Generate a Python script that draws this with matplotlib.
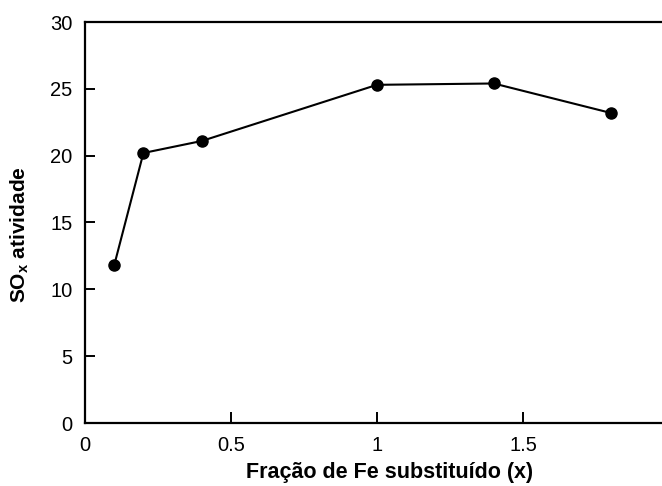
import matplotlib
matplotlib.use("Agg")
from matplotlib import pyplot as plt

# data
fe_fraction = [0.1, 0.2, 0.4, 1.0, 1.4, 1.8]
sox_activity = [11.8, 20.2, 21.1, 25.3, 25.4, 23.2]

x_ticks = [0, 0.5, 1, 1.5, 2]
x_tick_labels = ["0", "0.5", "1", "1.5", "2"]
y_ticks = [0, 5, 10, 15, 20, 25, 30]

plt.rcParams["font.family"] = ["Liberation Sans", "DejaVu Sans"]
plt.rcParams["mathtext.fontset"] = "custom"
plt.rcParams["mathtext.rm"] = "Liberation Sans:bold"
plt.rcParams["mathtext.bf"] = "Liberation Sans:bold"

fig = plt.figure(figsize=(6.62, 4.86), dpi=100)
axis = fig.add_axes([85 / 662, 1 - 423 / 486, 584 / 662, 401 / 486])

axis.plot(
    fe_fraction,
    sox_activity,
    color="black",
    linestyle="-",
    linewidth=1.5,
    marker="o",
    markersize=8,
)

axis.set_xlim(0, 2)
axis.set_ylim(0, 30)
axis.set_xticks(x_ticks)
axis.set_xticklabels(x_tick_labels)
axis.set_yticks(y_ticks)

axis.spines["right"].set_visible(False)
for side in ["left", "top", "bottom"]:
    axis.spines[side].set_linewidth(1.6)

axis.tick_params(axis="both", direction="in", labelsize=14.5, width=1.4, pad=9)
axis.tick_params(axis="x", length=8)
axis.tick_params(axis="y", length=7)
axis.tick_params(top=False, right=False)

axis.set_xlabel("Fração de Fe substituído (x)", fontsize=15.5, fontweight="bold")
axis.set_ylabel("SO$_{\\mathrm{x}}$ atividade", fontsize=15, fontweight="bold")
axis.xaxis.set_label_coords(0.522, -0.098)
axis.yaxis.set_label_coords(-0.092, 0.469)

fig.savefig("out.png", dpi=100)
